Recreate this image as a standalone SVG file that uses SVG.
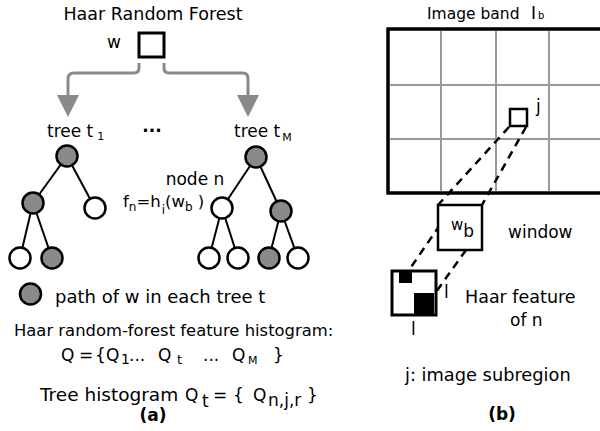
<svg xmlns="http://www.w3.org/2000/svg" width="600" height="431" viewBox="0 0 600 431">
<style>
svg{font-family:"DejaVu Sans","Liberation Sans",sans-serif;font-size:17px}
text{fill:#000}
.b{font-weight:bold}
.s{font-size:11px}
.g{fill:#8a8a8a;stroke:#000;stroke-width:2.5}
.w{fill:#fff;stroke:#000;stroke-width:2.5}
.e{stroke:#000;stroke-width:2;fill:none}
.arr{stroke:#8a8a8a;stroke-width:3;fill:none}
.ah{fill:#8a8a8a}
.dash{stroke:#000;stroke-width:2.5;stroke-dasharray:8 6;fill:none}
.grid{stroke:#9a9a9a;stroke-width:2}
</style>
<rect width="600" height="431" fill="#fff"/>
<g id="image-band">
<rect x="388" y="29" width="216" height="164" fill="#fff" stroke="#000" stroke-width="3"/>
<line class="grid" x1="441" y1="30" x2="441" y2="192"/>
<line class="grid" x1="496" y1="30" x2="496" y2="192"/>
<line class="grid" x1="549" y1="30" x2="549" y2="192"/>
<line class="grid" x1="389" y1="85" x2="603" y2="85"/>
<line class="grid" x1="389" y1="139" x2="603" y2="139"/>
<rect x="388" y="29" width="216" height="164" fill="none" stroke="#000" stroke-width="3"/>
</g>
<g id="connectors">
<path class="arr" d="M139,63 L139,68 Q139,73 134,73 L74,73 Q68,73 68,79 L68,96"/>
<polygon class="ah" points="57,95 79,95 68,117"/>
<path class="arr" d="M164,63 L164,68 Q164,73 169,73 L243,73 Q248,73 248,79 L248,96"/>
<polygon class="ah" points="237,95 259,95 248,117"/>
<g id="tree1-edges">
<line class="e" x1="67" y1="156" x2="33" y2="203"/>
<line class="e" x1="67" y1="156" x2="95" y2="208"/>
<line class="e" x1="33" y1="203" x2="20" y2="258"/>
<line class="e" x1="33" y1="203" x2="52" y2="258"/>
</g>
<g id="treeM-edges">
<line class="e" x1="256" y1="157" x2="222" y2="208"/>
<line class="e" x1="256" y1="157" x2="281" y2="211"/>
<line class="e" x1="222" y1="208" x2="209" y2="258"/>
<line class="e" x1="222" y1="208" x2="238" y2="258"/>
<line class="e" x1="281" y1="211" x2="269" y2="258"/>
<line class="e" x1="281" y1="211" x2="298" y2="258"/>
</g>
<line class="dash" x1="509" y1="127" x2="438" y2="205"/>
<line class="dash" x1="526" y1="127" x2="482" y2="205"/>
<line class="dash" x1="440" y1="225" x2="409" y2="270"/>
<line class="dash" x1="466" y1="250" x2="436" y2="292"/>
</g>
<text x="153" y="20" text-anchor="middle" font-size="17.5">Haar Random Forest</text>
<g id="w-node">
<rect x="139" y="33" width="25" height="24" fill="#fff" stroke="#000" stroke-width="3"/>
<text x="114" y="48" text-anchor="middle">w</text>
</g>
<text x="47" y="137">tree t<tspan class="s" dx="4" dy="3">1</tspan></text>
<text x="152" y="132" text-anchor="middle" class="b">...</text>
<text x="234" y="137">tree t<tspan class="s" dx="2" dy="4">M</tspan></text>
<g id="tree1">
<circle id="t1-root" class="g" cx="67" cy="156" r="10.5"/>
<circle id="t1-l" class="g" cx="33" cy="203" r="10.5"/>
<circle id="t1-r" class="w" cx="95" cy="208" r="10.5"/>
<circle id="t1-ll" class="w" cx="20" cy="258" r="10.5"/>
<circle id="t1-lr" class="g" cx="52" cy="258" r="10.5"/>
</g>
<g id="treeM">
<circle id="tM-root" class="g" cx="256" cy="157" r="10.5"/>
<circle id="tM-n" class="w" cx="222" cy="208" r="10.5"/>
<circle id="tM-r" class="g" cx="281" cy="211" r="10.5"/>
<circle id="tM-1" class="w" cx="209" cy="258" r="10.5"/>
<circle id="tM-2" class="w" cx="238" cy="258" r="10.5"/>
<circle id="tM-3" class="g" cx="269" cy="258" r="10.5"/>
<circle id="tM-4" class="w" cx="298" cy="258" r="10.5"/>
</g>
<text x="195" y="185" text-anchor="middle">node n</text>
<text x="123" y="207" font-size="16.5">f<tspan font-size="12" dy="4">n</tspan><tspan dy="-4">=h</tspan><tspan font-size="12" dy="7" dx="1">i</tspan><tspan dy="-7">(w</tspan><tspan font-size="12" dy="4">b</tspan><tspan dy="-4"> )</tspan></text>
<g id="legend">
<circle class="g" cx="30.5" cy="294" r="10.5"/>
<text x="55" y="303" font-size="18">path of w in each tree t</text>
</g>
<text x="14" y="336" font-size="16.4">Haar random-forest feature histogram:</text>
<text y="361"><tspan x="61">Q</tspan><tspan x="79">=</tspan><tspan x="95">{</tspan><tspan x="106">Q</tspan><tspan x="121" dy="3" font-size="14">1</tspan><tspan x="129" dy="-3">...</tspan><tspan x="158">Q</tspan><tspan x="177" dy="3" font-size="13">t</tspan><tspan x="203" dy="-3">...</tspan><tspan x="232">Q</tspan><tspan x="248" dy="3" font-size="11">M</tspan><tspan x="273" dy="-3">}</tspan></text>
<text y="401"><tspan x="40" font-size="18.5">Tree histogram</tspan><tspan x="185">Q</tspan><tspan x="202" dy="6">t</tspan><tspan x="213" dy="-6">=</tspan><tspan x="233">{</tspan><tspan x="253">Q</tspan><tspan x="268" dy="5">n,j,r</tspan><tspan x="307" dy="-5">}</tspan></text>
<text x="153" y="421" text-anchor="middle" class="b">(a)</text>
<text y="19" font-size="15.5"><tspan x="427">Image band</tspan><tspan x="531" font-size="17">I</tspan><tspan font-size="10" dx="2">b</tspan></text>
<g id="subregion-j">
<rect x="510" y="109" width="17" height="17" fill="none" stroke="#000" stroke-width="2.5"/>
<text x="536" y="112">j</text>
</g>
<g id="window">
<rect x="438" y="205" width="44" height="45" fill="#fff" stroke="#000" stroke-width="2.5"/>
<text x="451" y="230" font-size="15">w<tspan font-size="17" dy="7">b</tspan></text>
<text x="508" y="238">window</text>
</g>
<g id="haar-feature">
<rect x="392" y="271" width="44" height="44" fill="#fff" stroke="#000" stroke-width="3"/>
<rect x="399" y="272" width="13" height="11" fill="#000"/>
<rect x="414" y="293" width="20" height="21" fill="#000"/>
<text x="444" y="298">l</text>
<text x="411" y="335">l</text>
<text x="465" y="303" font-size="17.5">Haar feature</text>
<text x="510" y="326">of n</text>
</g>
<text x="405" y="381" font-size="17.8">j: image subregion</text>
<text x="502" y="420" text-anchor="middle" class="b">(b)</text>
</svg>
